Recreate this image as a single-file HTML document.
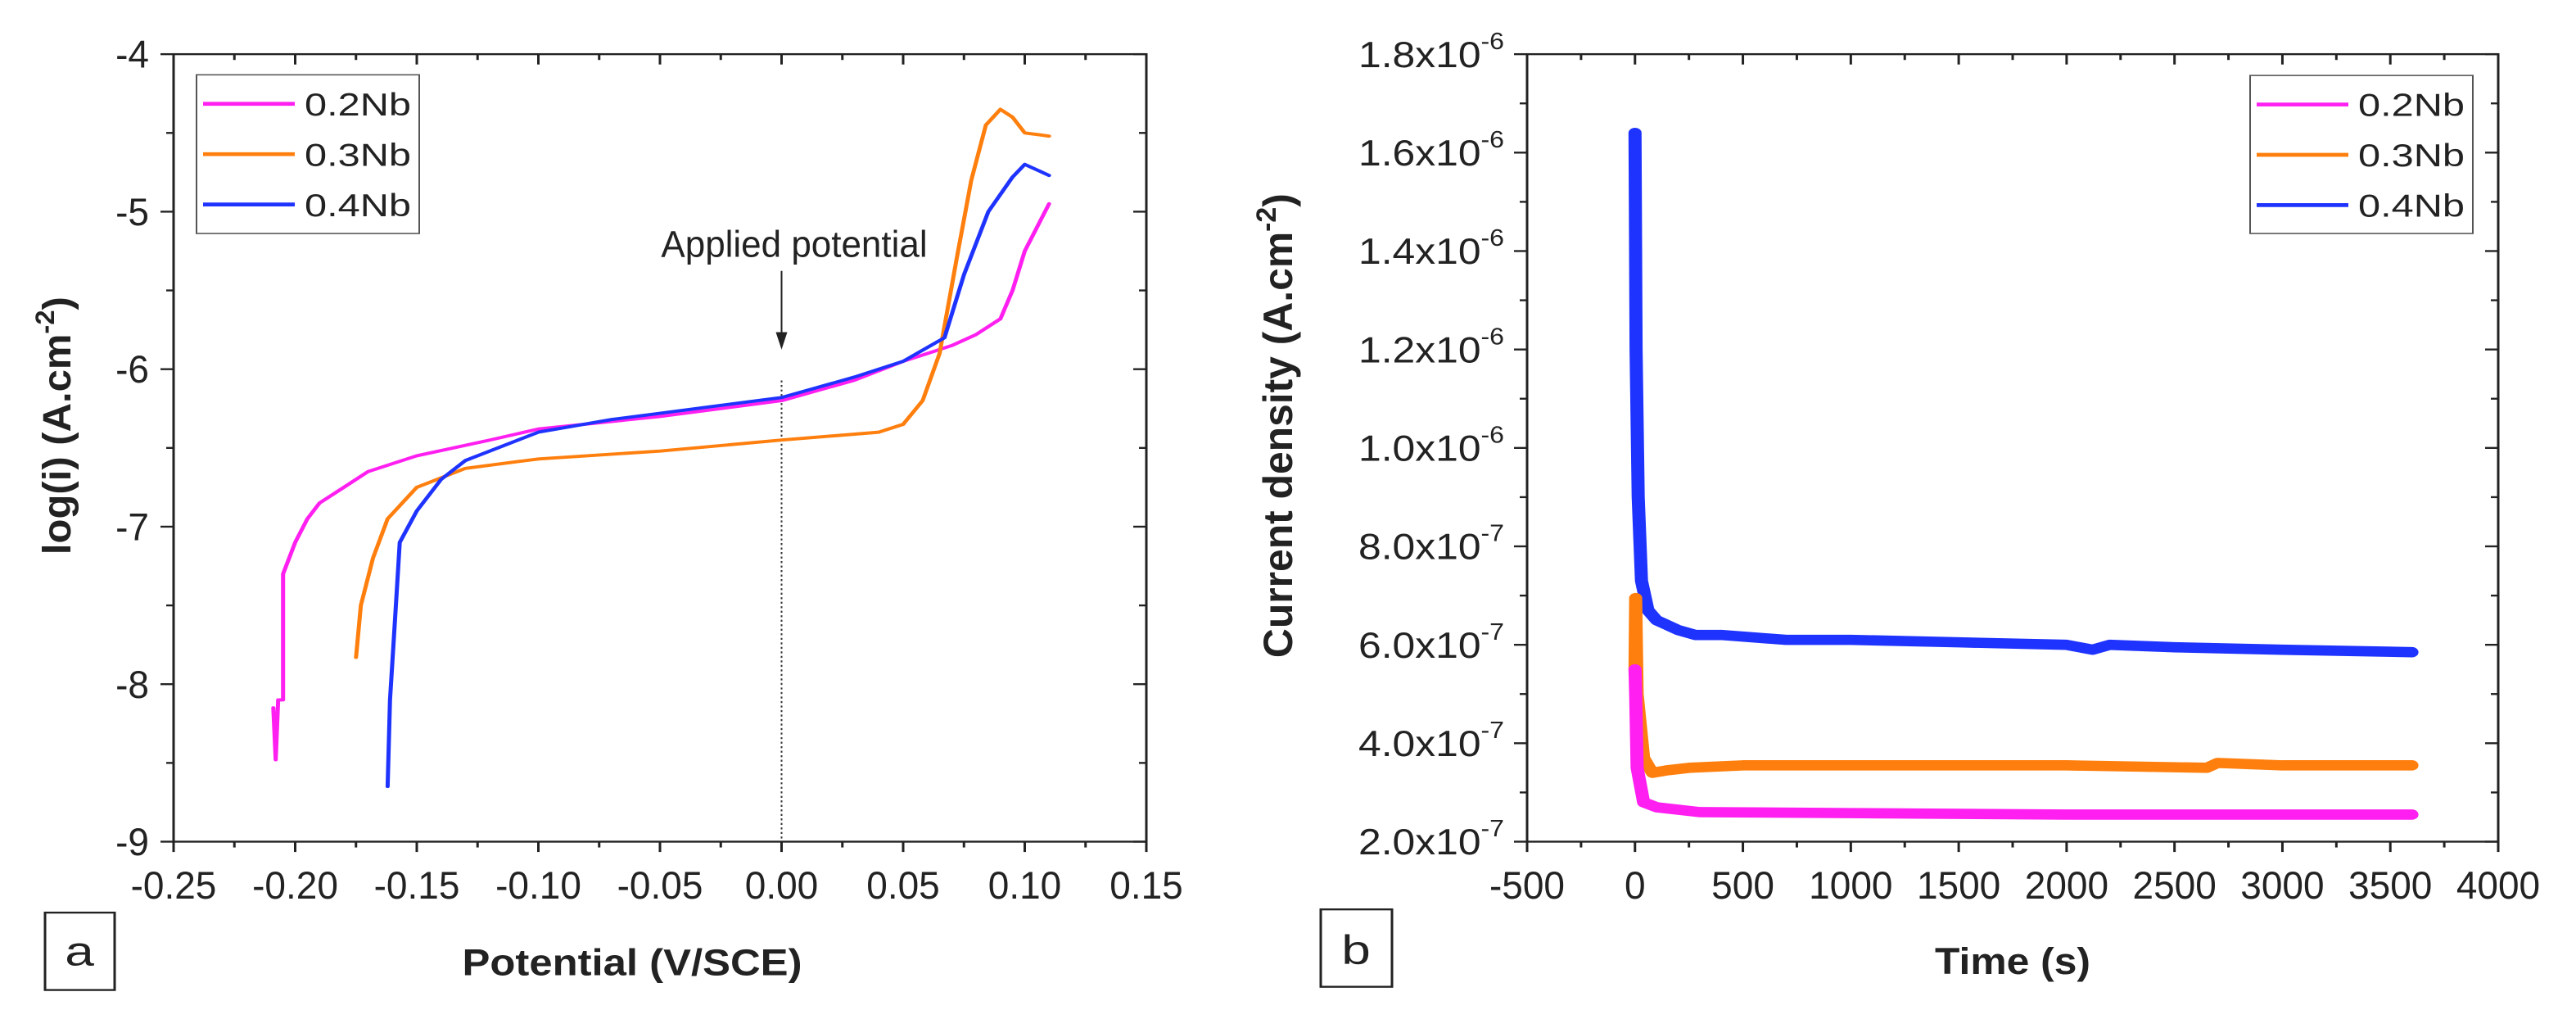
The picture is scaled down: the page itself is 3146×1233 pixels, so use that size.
<!DOCTYPE html>
<html><head><meta charset="utf-8"><style>
html,body{margin:0;padding:0;background:#fff}
svg{display:block}
text{font-family:"Liberation Sans",sans-serif;fill:#222}
</style></head><body>
<svg id="fig" width="3146" height="1233" viewBox="0 0 3146 1566" preserveAspectRatio="none" xmlns="http://www.w3.org/2000/svg"></svg>
<script>
// ---- Chart a data ----
const aXTicks=[-0.25,-0.20,-0.15,-0.10,-0.05,0.00,0.05,0.10,0.15];
const aYTicks=[-4,-5,-6,-7,-8,-9];
const a02E=[-0.209,-0.208,-0.207,-0.205,-0.205,-0.200,-0.195,-0.190,-0.180,-0.170,-0.150,-0.120,-0.100,-0.050,0.000,0.030,0.050,0.070,0.080,0.090,0.095,0.100,0.110];
const a02L=[-8.15,-8.48,-8.10,-8.10,-7.30,-7.10,-6.95,-6.85,-6.75,-6.65,-6.55,-6.45,-6.38,-6.30,-6.20,-6.07,-5.95,-5.85,-5.78,-5.68,-5.50,-5.25,-4.95];
const a03E=[-0.175,-0.173,-0.168,-0.162,-0.150,-0.130,-0.100,-0.050,0.000,0.040,0.050,0.058,0.065,0.072,0.078,0.084,0.090,0.095,0.100,0.110];
const a03L=[-7.83,-7.50,-7.20,-6.95,-6.75,-6.63,-6.57,-6.52,-6.45,-6.40,-6.35,-6.20,-5.90,-5.30,-4.80,-4.45,-4.35,-4.40,-4.50,-4.52];
const a04E=[-0.162,-0.161,-0.159,-0.157,-0.150,-0.140,-0.130,-0.100,-0.070,-0.050,0.000,0.030,0.050,0.067,0.075,0.085,0.095,0.100,0.110];
const a04L=[-8.65,-8.10,-7.60,-7.10,-6.90,-6.70,-6.58,-6.40,-6.32,-6.28,-6.18,-6.05,-5.95,-5.80,-5.40,-5.00,-4.78,-4.70,-4.77];
// ---- Chart b data ----
const bXTicks=[-500,0,500,1000,1500,2000,2500,3000,3500,4000];
const bYTicks=[2.0,4.0,6.0,8.0,10.0,12.0,14.0,16.0,18.0]; // x1e-7
const bYLabels=["2.0x10","4.0x10","6.0x10","8.0x10","1.0x10","1.2x10","1.4x10","1.6x10","1.8x10"];
const bYExp=["-7","-7","-7","-7","-6","-6","-6","-6","-6"];
const b04T=[0,5,15,30,60,100,200,280,400,700,1000,1500,2000,2120,2200,2500,3000,3600];
const b04I=[16.4,12.0,9.0,7.3,6.7,6.5,6.3,6.2,6.2,6.1,6.1,6.05,6.0,5.9,6.0,5.95,5.9,5.85];
const b03T=[0,3,10,40,80,150,250,500,1000,1500,2000,2650,2700,3000,3600];
const b03I=[5.5,6.95,5.0,3.7,3.4,3.45,3.5,3.55,3.55,3.55,3.55,3.5,3.6,3.55,3.55];
const b02T=[0,3,10,40,100,300,1000,2000,3000,3600];
const b02I=[5.5,5.0,3.5,2.8,2.7,2.6,2.58,2.55,2.55,2.55];

const svg=document.getElementById('fig');
const NS='http://www.w3.org/2000/svg';
function mk(tag,attrs,parent){const e=document.createElementNS(NS,tag);for(const k in attrs)e.setAttribute(k,attrs[k]);(parent||svg).appendChild(e);return e;}
// make text taller while keeping its width (reference glyphs are condensed)
function tall(el,factor){const w=el.getComputedTextLength();const fs=parseFloat(el.getAttribute('font-size'));el.setAttribute('font-size',fs*factor);el.setAttribute('textLength',w);el.setAttribute('lengthAdjust','spacingAndGlyphs');}
function fitW(el,w){el.setAttribute('textLength',w);el.setAttribute('lengthAdjust','spacingAndGlyphs');}

const aL=212,aR=1400,aT=84,aB=1305;
const ax=v=>aL+(v+0.25)/0.40*(aR-aL);
const ay=v=>aT+(-4-v)/5*(aB-aT);
const bL=1865,bR=3051,bT=84,bB=1305;
const bx=v=>bL+(v+500)/4500*(bR-bL);
const by=v=>bB-(v-2)/16*(bB-bT);

function frame(L,T,R,B,name){
  const r=mk('rect',{x:L,y:T,width:R-L,height:B-T,fill:'none',stroke:'#222','stroke-width':3});
  
  
}
// ---- Chart a ----
const ga=mk('g',{});


frame(aL,aT,aR,aB,'plot-area-a');
aXTicks.forEach((t,i)=>{
  const x=ax(t);
  mk('line',{x1:x,y1:aB,x2:x,y2:aB+16,stroke:'#222','stroke-width':3},ga);
  mk('line',{x1:x,y1:aT,x2:x,y2:aT+16,stroke:'#222','stroke-width':3},ga);
  if(i<aXTicks.length-1){const xm=ax(t+0.025);
    mk('line',{x1:xm,y1:aB,x2:xm,y2:aB+9,stroke:'#222','stroke-width':3},ga);
    mk('line',{x1:xm,y1:aT,x2:xm,y2:aT+9,stroke:'#222','stroke-width':3},ga);}
  const tx=mk('text',{x:x,y:aB+88,'font-size':46,'text-anchor':'middle'},ga);
  tx.textContent=t.toFixed(2);
  
  
  tall(tx,1.3);
});
aYTicks.forEach((t,i)=>{
  const y=ay(t);
  mk('line',{x1:aL,y1:y,x2:aL-16,y2:y,stroke:'#222','stroke-width':3},ga);
  mk('line',{x1:aR,y1:y,x2:aR-16,y2:y,stroke:'#222','stroke-width':3},ga);
  if(t>-9){const ym=ay(t-0.5);
    mk('line',{x1:aL,y1:ym,x2:aL-9,y2:ym,stroke:'#222','stroke-width':3},ga);
    mk('line',{x1:aR,y1:ym,x2:aR-9,y2:ym,stroke:'#222','stroke-width':3},ga);}
  const tx=mk('text',{x:aL-30,y:y+21,'font-size':46,'text-anchor':'end'},ga);
  tx.textContent=String(t);
  
  
  tall(tx,1.3);
});
const dl=mk('line',{x1:ax(0),y1:590,x2:ax(0),y2:aB,stroke:'#333','stroke-width':2,'stroke-dasharray':'3,4'},ga);


const ar=mk('line',{x1:ax(0),y1:420,x2:ax(0),y2:520,stroke:'#222','stroke-width':2},ga);


mk('polygon',{points:`${ax(0)-7},515 ${ax(0)+7},515 ${ax(0)},542`,fill:'#222'},ga);
const apt=mk('text',{x:970,y:398,'font-size':44,'text-anchor':'middle'},ga);
apt.textContent='Applied potential';


tall(apt,1.3);

function series(xs,ys,fx,fy,color,w,name,parent){
  const d=xs.map((v,i)=>(i?'L':'M')+fx(v).toFixed(1)+','+fy(ys[i]).toFixed(1)).join(' ');
  const p=mk('path',{d:d,fill:'none',stroke:color,'stroke-width':w,'stroke-linejoin':'round','stroke-linecap':'round'},parent);
  
  
}
const PINK='#ff1ff0',ORANGE='#ff7f0e',BLUE='#1f33ff';
series(a02E,a02L,ax,ay,PINK,5,'line-0.2nb-a',ga);
series(a03E,a03L,ax,ay,ORANGE,5,'line-0.3nb-a',ga);
series(a04E,a04L,ax,ay,BLUE,5,'line-0.4nb-a',ga);

function legend(x,y,w,h,parent,name){
  const g=mk('g',{},parent);
  
  
  mk('rect',{x:x,y:y,width:w,height:h,fill:'#fff',stroke:'#555','stroke-width':2},g);
  [['0.2Nb',PINK],['0.3Nb',ORANGE],['0.4Nb',BLUE]].forEach((e,i)=>{
    const yy=y+45+i*78;
    mk('line',{x1:x+8,y1:yy,x2:x+120,y2:yy,stroke:e[1],'stroke-width':6},g);
    const t=mk('text',{x:x+132,y:yy+18,'font-size':50},g);
    t.textContent=e[0];
    
    
    fitW(t,130);
  });
}
legend(240,116,272,246,ga,'legend-a');

const yta=mk('text',{x:0,y:0,'font-size':48,'font-weight':'bold','text-anchor':'middle',transform:'translate(86,660) rotate(-90)'},ga);
yta.innerHTML='log(i)  (A.cm<tspan font-size="32" dy="-20">-2</tspan><tspan dy="20">)</tspan>';


fitW(yta,400);
const xta=mk('text',{x:772,y:1512,'font-size':58,'font-weight':'bold','text-anchor':'middle'},ga);
xta.textContent='Potential (V/SCE)';


fitW(xta,415);
mk('rect',{x:55,y:1415,width:85,height:120,fill:'none',stroke:'#222','stroke-width':3},ga);
const pa=mk('text',{x:97,y:1497,'font-size':64,'text-anchor':'middle'},ga);
pa.textContent='a';



// ---- Chart b ----
const gb=mk('g',{});


frame(bL,bT,bR,bB,'plot-area-b');
bXTicks.forEach((t,i)=>{
  const x=bx(t);
  mk('line',{x1:x,y1:bB,x2:x,y2:bB+16,stroke:'#222','stroke-width':3},gb);
  mk('line',{x1:x,y1:bT,x2:x,y2:bT+16,stroke:'#222','stroke-width':3},gb);
  if(i<bXTicks.length-1){const xm=bx(t+250);
    mk('line',{x1:xm,y1:bB,x2:xm,y2:bB+9,stroke:'#222','stroke-width':3},gb);
    mk('line',{x1:xm,y1:bT,x2:xm,y2:bT+9,stroke:'#222','stroke-width':3},gb);}
  const tx=mk('text',{x:x,y:bB+88,'font-size':46,'text-anchor':'middle'},gb);
  tx.textContent=String(t);
  
  
  tall(tx,1.3);
});
bYTicks.forEach((t,i)=>{
  const y=by(t);
  mk('line',{x1:bL,y1:y,x2:bL-16,y2:y,stroke:'#222','stroke-width':3},gb);
  mk('line',{x1:bR,y1:y,x2:bR-16,y2:y,stroke:'#222','stroke-width':3},gb);
  if(i<bYTicks.length-1){const ym=by(t+1);
    mk('line',{x1:bL,y1:ym,x2:bL-9,y2:ym,stroke:'#222','stroke-width':3},gb);
    mk('line',{x1:bR,y1:ym,x2:bR-9,y2:ym,stroke:'#222','stroke-width':3},gb);}
  const tx=mk('text',{x:bL-28,y:y+20,'font-size':56,'text-anchor':'end'},gb);
  tx.innerHTML=bYLabels[i]+'<tspan font-size="36" dy="-28">'+bYExp[i]+'</tspan>';
  
  
  fitW(tx,178);
});
series(b04T,b04I,bx,by,BLUE,16,'line-0.4nb-b',gb);
series(b03T,b03I,bx,by,ORANGE,16,'line-0.3nb-b',gb);
series(b02T,b02I,bx,by,PINK,16,'line-0.2nb-b',gb);
legend(2748,117,272,245,gb,'legend-b');
const ytb=mk('text',{x:0,y:0,'font-size':50,'font-weight':'bold','text-anchor':'middle',transform:'translate(1578,660) rotate(-90)'},gb);
ytb.innerHTML='Current density (A.cm<tspan font-size="34" dy="-20">-2</tspan><tspan dy="20">)</tspan>';


fitW(ytb,720);
const xtb=mk('text',{x:2458,y:1510,'font-size':58,'font-weight':'bold','text-anchor':'middle'},gb);
xtb.textContent='Time (s)';


fitW(xtb,190);
mk('rect',{x:1613,y:1410,width:87,height:120,fill:'none',stroke:'#222','stroke-width':3},gb);
const pb=mk('text',{x:1656,y:1495,'font-size':64,'text-anchor':'middle'},gb);
pb.textContent='b';


</script>
</body></html>
